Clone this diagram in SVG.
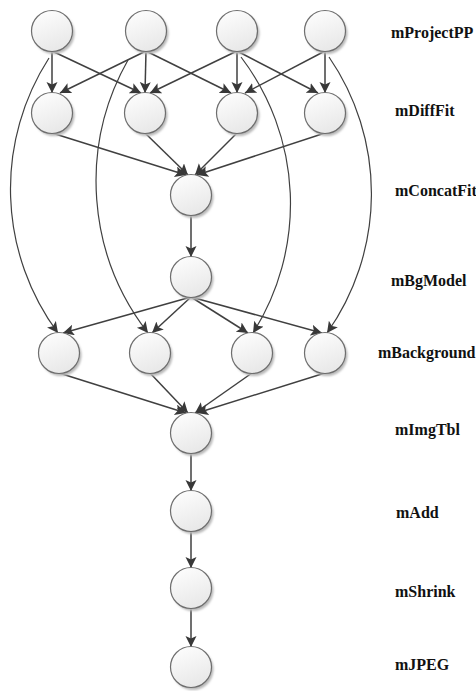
<svg xmlns="http://www.w3.org/2000/svg" width="476" height="691" viewBox="0 0 476 691">
<defs>
<linearGradient id="g" x1="0" y1="0" x2="0.4" y2="1">
<stop offset="0" stop-color="#ffffff"/>
<stop offset="1" stop-color="#e9e9e9"/>
</linearGradient>
<filter id="sh" x="-30%" y="-30%" width="170%" height="170%">
<feGaussianBlur stdDeviation="1.2"/>
</filter>
<marker id="ah" markerUnits="userSpaceOnUse" markerWidth="13" markerHeight="13" refX="11" refY="5.5" orient="auto">
<path d="M0,0 L11,5.5 L0,11 L2.5,5.5 z" fill="#383838"/>
</marker>
<g id="node">
<circle cx="2" cy="2.5" r="20.5" fill="#b8b8b8" filter="url(#sh)"/>
<circle cx="0" cy="0" r="20.5" fill="url(#g)" stroke="#6e6e6e" stroke-width="1.2"/>
</g>
</defs>
<style>
.e{fill:none;stroke:#404040;stroke-width:1.5;marker-end:url(#ah)}
.c{fill:none;stroke:#404040;stroke-width:1.2;marker-end:url(#ah)}
.lbl{font-family:"Liberation Serif","Times New Roman",serif;font-weight:bold;font-size:16px;fill:#111}
</style>
<rect width="476" height="691" fill="#ffffff"/>
<g id="connectors">
<line class="e" x1="52" y1="51" x2="52" y2="93"/>
<line class="e" x1="52" y1="51" x2="141" y2="93"/>
<line class="e" x1="146" y1="51" x2="60" y2="93"/>
<line class="e" x1="146" y1="51" x2="145" y2="93"/>
<line class="e" x1="146" y1="51" x2="231" y2="93"/>
<line class="e" x1="237" y1="51" x2="150" y2="93"/>
<line class="e" x1="237" y1="51" x2="237" y2="93"/>
<line class="e" x1="237" y1="51" x2="318" y2="93"/>
<line class="e" x1="325" y1="51" x2="245" y2="93"/>
<line class="e" x1="325" y1="51" x2="325" y2="93"/>
<path class="c" d="M49,58 A242,242 0 0 0 58,333"/>
<path class="c" d="M128,60 A247,247 0 0 0 148,333"/>
<path class="c" d="M241,57 A242,242 0 0 1 253,333"/>
<path class="c" d="M329,57 A241,241 0 0 1 327,333"/>
<line class="e" x1="52" y1="133" x2="186" y2="175"/>
<line class="e" x1="145" y1="133" x2="188" y2="175"/>
<line class="e" x1="237" y1="133" x2="195" y2="175"/>
<line class="e" x1="325" y1="133" x2="197" y2="175"/>
<line class="e" x1="191" y1="215" x2="191" y2="257"/>
<line class="e" x1="191" y1="297" x2="63" y2="333"/>
<line class="e" x1="191" y1="297" x2="152" y2="333"/>
<line class="e" x1="191" y1="297" x2="248" y2="333"/>
<line class="e" x1="191" y1="297" x2="322" y2="333"/>
<line class="e" x1="59" y1="373" x2="186" y2="413"/>
<line class="e" x1="150" y1="373" x2="188" y2="413"/>
<line class="e" x1="252" y1="373" x2="195" y2="413"/>
<line class="e" x1="325" y1="373" x2="197" y2="413"/>
<line class="e" x1="191" y1="453" x2="191" y2="491"/>
<line class="e" x1="191" y1="531" x2="191" y2="568"/>
<line class="e" x1="191" y1="608" x2="191" y2="647"/>
</g>
<g id="mProjectPP1"><use href="#node" x="52" y="31"/></g>
<g id="mProjectPP2"><use href="#node" x="146" y="31"/></g>
<g id="mProjectPP3"><use href="#node" x="237" y="31"/></g>
<g id="mProjectPP4"><use href="#node" x="325" y="31"/></g>
<g id="mDiffFit1"><use href="#node" x="52" y="113"/></g>
<g id="mDiffFit2"><use href="#node" x="145" y="113"/></g>
<g id="mDiffFit3"><use href="#node" x="237" y="113"/></g>
<g id="mDiffFit4"><use href="#node" x="325" y="113"/></g>
<g id="mConcatFit"><use href="#node" x="191" y="195"/></g>
<g id="mBgModel"><use href="#node" x="191" y="277"/></g>
<g id="mBackground1"><use href="#node" x="59" y="353"/></g>
<g id="mBackground2"><use href="#node" x="150" y="353"/></g>
<g id="mBackground3"><use href="#node" x="252" y="353"/></g>
<g id="mBackground4"><use href="#node" x="325" y="353"/></g>
<g id="mImgTbl"><use href="#node" x="191" y="433"/></g>
<g id="mAdd"><use href="#node" x="191" y="511"/></g>
<g id="mShrink"><use href="#node" x="191" y="588"/></g>
<g id="mJPEG"><use href="#node" x="191" y="667"/></g>
<g id="labels">
<text class="lbl" x="391" y="38">mProjectPP</text>
<text class="lbl" x="395" y="116">mDiffFit</text>
<text class="lbl" x="395" y="196">mConcatFit</text>
<text class="lbl" x="391" y="286">mBgModel</text>
<text class="lbl" x="378" y="358">mBackground</text>
<text class="lbl" x="395" y="435">mImgTbl</text>
<text class="lbl" x="396" y="518">mAdd</text>
<text class="lbl" x="395" y="597">mShrink</text>
<text class="lbl" x="395" y="670">mJPEG</text>
</g>
</svg>
